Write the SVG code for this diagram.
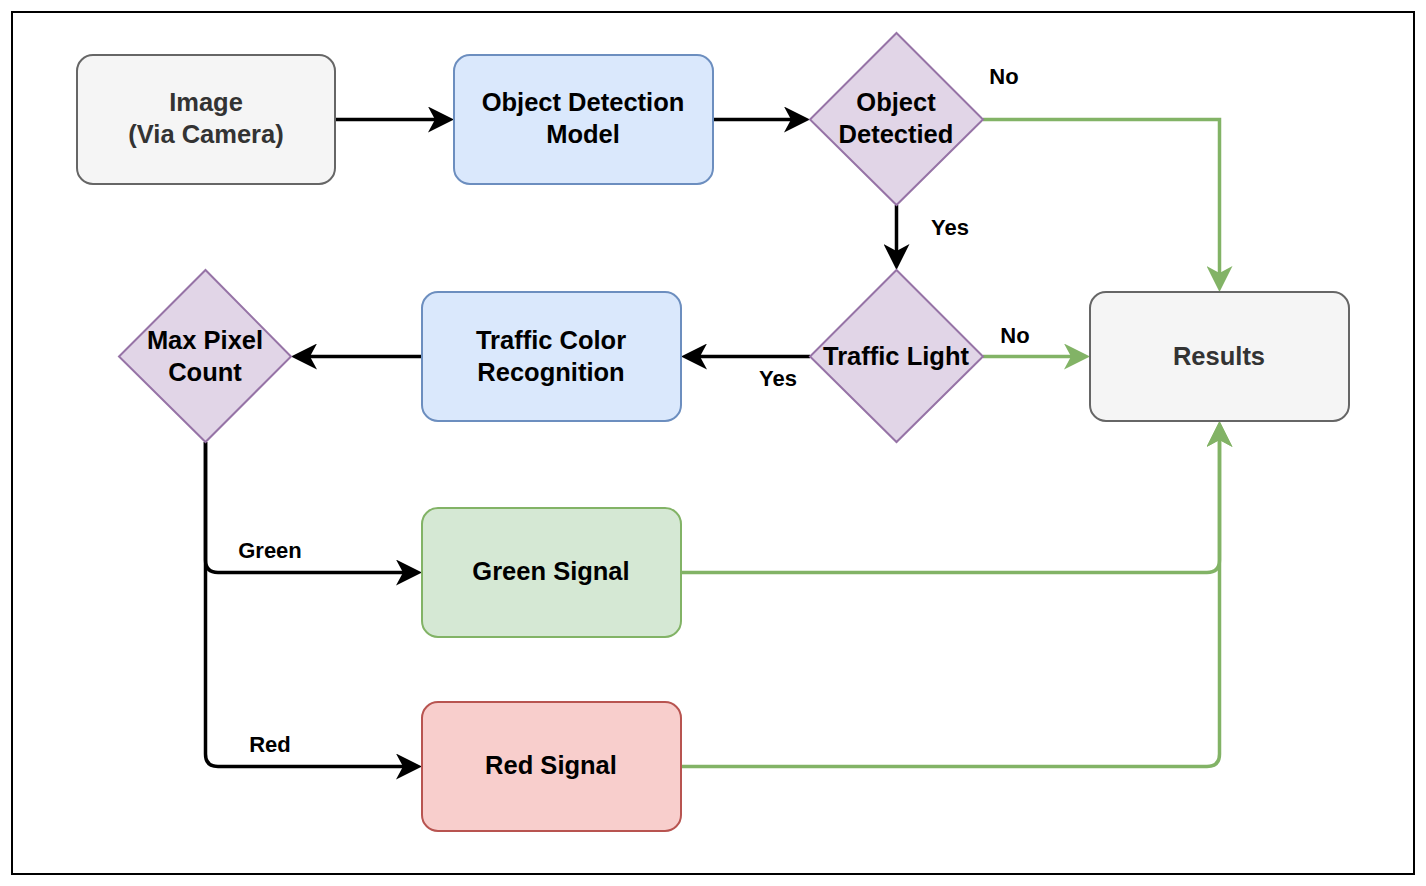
<svg xmlns="http://www.w3.org/2000/svg" width="1426" height="886" viewBox="0 0 1426 886">
<defs>
<style>
.lbl{font-family:"Liberation Sans",Arial,sans-serif;font-weight:bold;font-size:25.5px;text-anchor:middle;fill:#000}
.grey{fill:#333}
.elbl{font-family:"Liberation Sans",Arial,sans-serif;font-weight:bold;font-size:22px;text-anchor:middle;fill:#000}
.blk{fill:none;stroke:#000;stroke-width:3.5}
.grn{fill:none;stroke:#82b366;stroke-width:3.5}
.box{stroke-width:2}
</style>
<marker id="ab" viewBox="0 0 26 26" refX="7" refY="13" markerWidth="26" markerHeight="26" markerUnits="userSpaceOnUse" orient="auto">
<path d="M0,0 L26,13 L0,26 L7,13 Z" fill="#000"/>
</marker>
<marker id="ag" viewBox="0 0 26 26" refX="7" refY="13" markerWidth="26" markerHeight="26" markerUnits="userSpaceOnUse" orient="auto">
<path d="M0,0 L26,13 L0,26 L7,13 Z" fill="#82b366"/>
</marker>
</defs>
<rect x="0" y="0" width="1426" height="886" fill="#fff"/>
<rect x="12" y="12" width="1402" height="862" fill="#fff" stroke="#000" stroke-width="2"/>

<g id="connectors">
<path class="blk" d="M335,119.5 H435" marker-end="url(#ab)"/>
<path class="blk" d="M713,119.5 H791" marker-end="url(#ab)"/>
<path class="blk" d="M896.5,205 V251" marker-end="url(#ab)"/>
<path class="grn" d="M983,119.5 H1219.5 V273" marker-end="url(#ag)"/>
<path class="blk" d="M810,356.5 H700" marker-end="url(#ab)"/>
<path class="grn" d="M983,356.5 H1071" marker-end="url(#ag)"/>
<path class="blk" d="M422,356.5 H310" marker-end="url(#ab)"/>
<path class="blk" d="M205.5,442 V560 Q205.5,572.5 218,572.5 H403" marker-end="url(#ab)"/>
<path class="blk" d="M205.5,442 V754 Q205.5,766.5 218,766.5 H403" marker-end="url(#ab)"/>
<path class="grn" d="M681,572.5 H1207 Q1219.5,572.5 1219.5,560 V440" marker-end="url(#ag)"/>
<path class="grn" d="M681,766.5 H1207 Q1219.5,766.5 1219.5,754 V440" marker-end="url(#ag)"/>
<text class="elbl" x="950" y="235">Yes</text>
<text class="elbl" x="1004" y="84">No</text>
<text class="elbl" x="778" y="386">Yes</text>
<text class="elbl" x="1015" y="343">No</text>
<text class="elbl" x="270" y="558">Green</text>
<text class="elbl" x="270" y="752">Red</text>
</g>

<g id="image">
<rect class="box" x="77" y="55" width="258" height="129" rx="16" fill="#f5f5f5" stroke="#666"/>
<text class="lbl grey" x="206" y="111">Image</text>
<text class="lbl grey" x="206" y="143">(Via Camera)</text>
</g>
<g id="odm">
<rect class="box" x="454" y="55" width="259" height="129" rx="16" fill="#dae8fc" stroke="#6c8ebf"/>
<text class="lbl" x="583" y="111">Object Detection</text>
<text class="lbl" x="583" y="143">Model</text>
</g>
<g id="objdetected">
<polygon class="box" points="896.5,33 983,119.5 896.5,205 810,119.5" fill="#e1d5e7" stroke="#9673a6"/>
<text class="lbl" x="896" y="111">Object</text>
<text class="lbl" x="896" y="143">Detectied</text>
</g>
<g id="trafficlight">
<polygon class="box" points="896.5,270 983,356.5 896.5,442 810,356.5" fill="#e1d5e7" stroke="#9673a6"/>
<text class="lbl" x="896" y="365">Traffic Light</text>
</g>
<g id="results">
<rect class="box" x="1090" y="292" width="259" height="129" rx="16" fill="#f5f5f5" stroke="#666"/>
<text class="lbl grey" x="1219" y="365">Results</text>
</g>
<g id="tcr">
<rect class="box" x="422" y="292" width="259" height="129" rx="16" fill="#dae8fc" stroke="#6c8ebf"/>
<text class="lbl" x="551" y="349">Traffic Color</text>
<text class="lbl" x="551" y="381">Recognition</text>
</g>
<g id="maxpixel">
<polygon class="box" points="205.5,270 291,356.5 205.5,442 119,356.5" fill="#e1d5e7" stroke="#9673a6"/>
<text class="lbl" x="205" y="349">Max Pixel</text>
<text class="lbl" x="205" y="381">Count</text>
</g>
<g id="green">
<rect class="box" x="422" y="508" width="259" height="129" rx="16" fill="#d5e8d4" stroke="#82b366"/>
<text class="lbl" x="551" y="580">Green Signal</text>
</g>
<g id="red">
<rect class="box" x="422" y="702" width="259" height="129" rx="16" fill="#f8cecc" stroke="#b85450"/>
<text class="lbl" x="551" y="774">Red Signal</text>
</g>
</svg>
